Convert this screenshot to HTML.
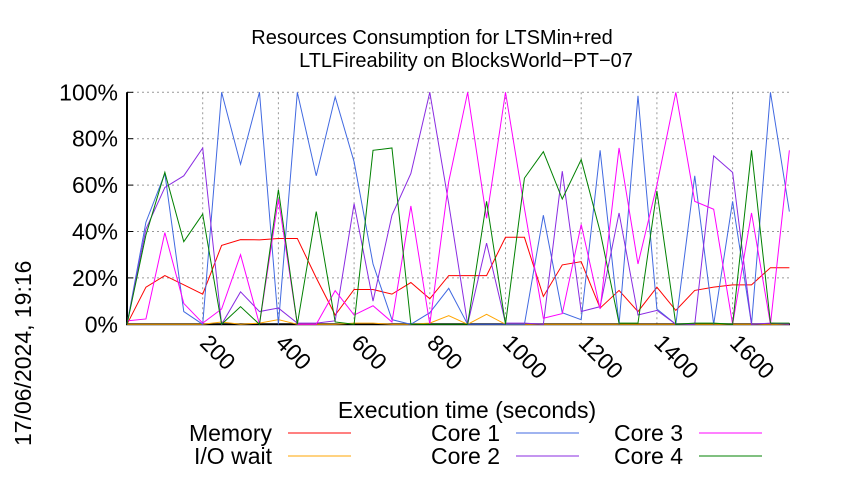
<!DOCTYPE html>
<html><head><meta charset="utf-8"><style>
body{margin:0;background:#fff;}
svg{font-family:"Liberation Sans",sans-serif;}
</style></head><body>
<svg width="850" height="475" viewBox="0 0 850 475">
<text x="432" y="44" font-size="20" text-anchor="middle">Resources Consumption for LTSMin+red</text>
<text x="466" y="67" font-size="20" text-anchor="middle">LTLFireability on BlocksWorld−PT−07</text>
<g id="grid"></g>
<g id="axes"></g>
<g id="series"></g>
<text transform="translate(31,446) rotate(-90)" font-size="23">17/06/2024, 19:16</text>
<text x="467" y="418" font-size="23" text-anchor="middle">Execution time (seconds)</text>
<g id="legend"></g>
</svg>
<script>
const times=[0,50,100,150,200,250,300,350,400,450,500,550,600,650,700,750,800,850,900,950,1000,1050,1100,1150,1200,1250,1300,1350,1400,1450,1500,1550,1600,1650,1700,1750];
const memory=[0,16,21,17,13,34,36.5,36.4,37,37,20,4,15,15,13,18,11,21,21,21,37.5,37.5,12,25.6,27,7,14.6,5.5,16,6,14.6,16,17,17,24.4,24.4];
const ioWait=[0,0,0,0,0,1,0,0.5,2,0,0,0,0.5,0.5,0,0,0.5,3.7,0,4.3,0,0,0,0,0,0,0,0,0,0,0,0,0,0,0,0];
const core1=[0,44,65,5.5,0,100,69,100,0,100,64,98,70,26,2,0,5,15.5,0,0,0,0,47,5,2,75,0,98.5,6.6,0,64,0,53,0,100,48.6];
const core2=[0,41,59,64,76,0,14,5.5,7,0.5,0.5,1.5,52,10,47,65,100,52,0,35,0.5,0.5,0,66,5.5,7.6,48,4,6,0,0,72.6,65.5,0,0.5,0];
const core3=[1.5,2.3,39.5,9,0.5,6.6,30,0,54,0,0,14.5,4,8,1,51,0,61.5,100,45.7,100,50,2.6,4.6,43,6.6,76,26,60,100,53,49.6,0,48,0,75];
const core4=[0,38.5,65.5,35.6,47.5,0,7.6,0,58,0,48.6,1,0,75,76,0,0,0,0,53,0,63,74.4,54,71,40,0.5,0.5,57.5,0,0.5,0.5,0,75,0.5,0.5];
const yTicks=[0,20,40,60,80,100];
const xTicks=[200,400,600,800,1000,1200,1400,1600];
const X0=127,PX=0.3785,Y0=324.3,PY=2.32;
const xs=t=>X0+t*PX, ys=v=>Y0-v*PY;
const NS="http://www.w3.org/2000/svg";
function mk(tag,attrs,parent){const e=document.createElementNS(NS,tag);for(const k in attrs)e.setAttribute(k,attrs[k]);parent.appendChild(e);return e;}
const grid=document.getElementById('grid'),axes=document.getElementById('axes'),ser=document.getElementById('series'),leg=document.getElementById('legend');
const XR=790;
yTicks.forEach(v=>{
  if(v>0){const l=mk('line',{x1:X0,x2:XR,y1:ys(v),y2:ys(v),stroke:'#999','stroke-dasharray':'2,3','stroke-width':1},grid);
  
  }
  const tk=mk('line',{x1:X0,x2:X0+6,y1:ys(v),y2:ys(v),stroke:'#000','stroke-width':1},axes);
  
  
  const t=mk('text',{x:118,y:ys(v)+8,'font-size':23,'text-anchor':'end'},axes);
  
  
  t.textContent=v+'%';
});
xTicks.forEach(v=>{
  const l=mk('line',{x1:xs(v),x2:xs(v),y1:ys(100),y2:Y0,stroke:'#999','stroke-dasharray':'2,3','stroke-width':1},grid);
  
  
  const t=mk('text',{transform:`translate(${xs(v)-4},${Y0+20}) rotate(45)`,'font-size':23},axes);
  
  
  t.textContent=v;
});
const ax=mk('path',{d:`M${X0},${ys(100)}V${Y0}H${XR}`,fill:'none',stroke:'#000','stroke-width':2},axes);


const series=[['memory',memory,'#ff0000'],['io-wait',ioWait,'#ffa500'],['core-1',core1,'#4169e1'],['core-2',core2,'#8a2be2'],['core-3',core3,'#ff00ff'],['core-4',core4,'#008000']];
series.forEach(([n,d,c])=>{
  const p=mk('polyline',{points:d.map((v,i)=>xs(times[i])+','+ys(v)).join(' '),fill:'none',stroke:c,'stroke-width':1},ser);
  
  
});
const legItems=[['Memory','#ff0000',272,288,433],['I/O wait','#ffa500',272,288,456],['Core 1','#4169e1',500,516,433],['Core 2','#8a2be2',500,516,456],['Core 3','#ff00ff',683,699,433],['Core 4','#008000',683,699,456]];
legItems.forEach(([label,c,tx,lx,y])=>{
  const t=mk('text',{x:tx,y:y+8,'font-size':23,'text-anchor':'end'},leg);
  
  
  t.textContent=label;
  const l=mk('line',{x1:lx,x2:lx+63,y1:y,y2:y,stroke:c,'stroke-width':1},leg);
  
  
});
</script>
</body></html>
